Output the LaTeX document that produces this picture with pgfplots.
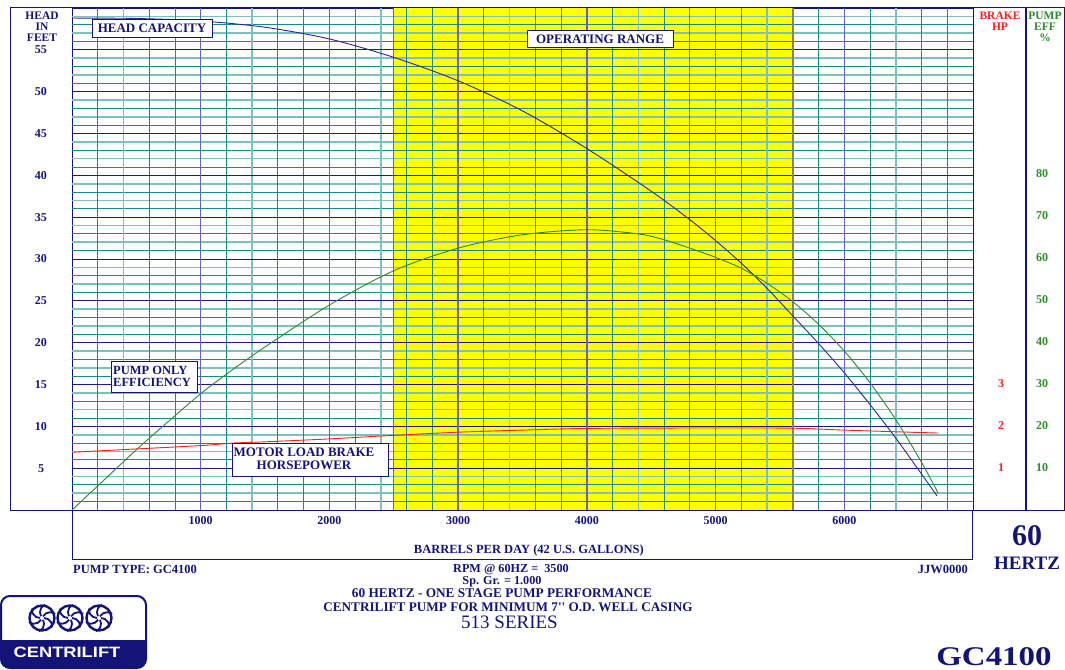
\documentclass[border=0pt]{standalone}
\usepackage{pgfplots}
\pgfplotsset{compat=1.18}
\usepackage{pgfplotstable}
\usepackage{fontspec}
\setmainfont{Liberation Serif}
\newfontfamily\logofont{Liberation Sans}
\definecolor{navy}{RGB}{20,20,120}
\definecolor{gridnavy}{RGB}{25,25,140}
\definecolor{slate}{RGB}{100,100,190}
\definecolor{tealdark}{RGB}{20,140,140}
\definecolor{teallight}{RGB}{125,192,192}
\definecolor{headblue}{RGB}{40,40,150}
\definecolor{effgreen}{RGB}{40,140,40}
\definecolor{hpred}{RGB}{255,30,30}
\definecolor{bandyellow}{RGB}{255,255,0}
\newcommand{\fs}[1]{\fontsize{#1}{#1}\selectfont}

% head capacity (feet) vs barrels per day
\pgfplotstableread{
q h
0 58.8
500 58.75
1000 58.45
1500 57.7
2000 56.3
2500 54.1
3000 51.3
3500 47.7
4000 43.2
4500 38.1
4800 34.7
5000 32.2
5200 29.5
5400 26.5
5600 23.2
5800 19.9
6000 16.4
6200 12.6
6400 8.6
6600 4.3
6720 1.7
}\headdata

% pump efficiency, plotted on the feet scale (percent = 2 x feet)
\pgfplotstableread{
q e
0 0
250 3.6
500 7.2
750 10.6
1000 13.9
1250 16.8
1500 19.5
2000 24.5
2500 28.6
3000 31.3
3500 32.9
4000 33.5
4400 33.0
4600 32.3
4800 31.3
5000 30.2
5200 28.9
5400 27.1
5600 24.9
5800 22.2
6000 19.0
6200 15.2
6400 10.8
6600 5.7
6730 2.0
}\effdata

% motor load brake horsepower, plotted on the feet scale (HP = feet / 5)
\pgfplotstableread{
q b
0 6.9
500 7.3
1000 7.7
1250 8.0
1500 8.15
2000 8.5
2470 8.9
3000 9.3
3500 9.55
4000 9.75
4880 9.8
5580 9.78
6000 9.55
6400 9.35
6730 9.2
}\hpdata

\begin{document}
\begin{tikzpicture}
\useasboundingbox (0pt,0pt) rectangle (1065pt,-669pt);
\begin{axis}[
  at={(72pt,-510pt)}, anchor=south west,
  scale only axis, width=901pt, height=502pt,
  xmin=0, xmax=7000, ymin=0, ymax=60,
  axis line style={draw=navy, line width=1pt},
  xtick={1000,2000,...,6000}, ytick={5,10,...,55},
  major tick length=0pt, minor tick length=0pt,
  tick label style={font=\bfseries\fs{12}, text=navy},
  /pgf/number format/assume math mode=true,
  /pgf/number format/1000 sep={},
  xticklabel style={anchor=center, yshift=-11pt},
  yticklabel style={anchor=center, xshift=-31pt},
  xlabel={BARRELS PER DAY (42 U.S. GALLONS)},
  xlabel style={at={(axis description cs:0.507,0)}, anchor=center, yshift=-40pt, font=\bfseries\fs{12.5}, text=navy},
  clip=false,
]
% operating range band
\fill[bandyellow] (axis cs:2500,0) rectangle (axis cs:5600,60);
% grid
\pgfplotsinvokeforeach{2,4,7,9,12,14,17,19,22,24,27,29,32,34,37,39,42,44,47,49,52,54,57,59}{
  \draw[teallight, line width=1.6pt] (axis cs:0,#1) -- (axis cs:7000,#1);}
\pgfplotsinvokeforeach{1,3,6,8,11,13,16,18,21,23,26,28,31,33,36,38,41,43,46,48,51,53,56,58}{
  \draw[tealdark, line width=0.9pt] (axis cs:0,#1) -- (axis cs:7000,#1);}
\pgfplotsinvokeforeach{400,1400,2400,3400,4400,5400,6400}{
  \draw[teallight, line width=1.6pt] (axis cs:#1,0) -- (axis cs:#1,60);}
\pgfplotsinvokeforeach{200,600,800,1200,1600,1800,2200,2600,2800,3200,3600,3800,4200,4600,4800,5200,5800,6200,6600,6800}{
  \draw[tealdark, line width=0.9pt] (axis cs:#1,0) -- (axis cs:#1,60);}
\pgfplotsinvokeforeach{5,10,...,55}{
  \draw[gridnavy, line width=0.9pt] (axis cs:0,#1) -- (axis cs:7000,#1);}
\pgfplotsinvokeforeach{1000,2000,...,6000}{
  \draw[slate, line width=1.4pt] (axis cs:#1,0) -- (axis cs:#1,60);}
\draw[slate, line width=1.3pt] (axis cs:2500,0) -- (axis cs:2500,60);
\draw[gray, line width=2pt] (axis cs:5600,0) -- (axis cs:5600,60);
% curves
\addplot[headblue, line width=0.9pt, smooth, tension=0.5] table[x=q,y=h] {\headdata};
\addplot[effgreen, line width=0.9pt, smooth, tension=0.5] table[x=q,y=e] {\effdata};
\addplot[hpred, line width=0.9pt, smooth, tension=0.5] table[x=q,y=b] {\hpdata};
\end{axis}

\begin{scope}[x=1pt,y=-1pt]
% frame
\draw[navy, line width=1pt] (10.5,8) -- (1064.5,8) -- (1064.5,510) -- (10.5,510) -- cycle;
\draw[navy, line width=2.2pt] (1026,8) -- (1026,510);
\draw[navy, line width=1pt] (72,510) -- (72,559) -- (972,559) -- (972,510);
% left axis title
\node[font=\bfseries\fs{11.5}, text=navy, align=center, inner sep=0pt] at (42,27) {HEAD\\[-0.5pt]IN\\[-0.5pt]FEET};
% right columns
\node[font=\bfseries\fs{11.5}, text=hpred, align=center, inner sep=0pt] at (1000,21) {BRAKE\\[-0.5pt]HP};
\node[font=\bfseries\fs{11.5}, text=effgreen, align=center, inner sep=0pt] at (1045,27) {PUMP\\[-0.5pt]EFF\\[-0.5pt]\%};
\foreach \v/\yy in {1/468,2/426,3/384}{
  \node[font=\bfseries\fs{12}, text=hpred, inner sep=0pt] at (1001,\yy) {\v};}
\foreach \v/\yy in {10/468,20/426,30/384,40/342,50/300,60/258,70/216,80/174}{
  \node[font=\bfseries\fs{12}, text=effgreen, inner sep=0pt] at (1042,\yy) {\v};}
% annotation boxes
\draw[navy, fill=white, line width=0.8pt] (92,19) rectangle (212,37);
\node[font=\bfseries\fs{13}, text=navy, inner sep=0pt] at (152,28.5) {HEAD CAPACITY};
\draw[navy, fill=white, line width=0.8pt] (527,30) rectangle (673,47);
\node[font=\bfseries\fs{13}, text=navy, inner sep=0pt] at (600,39) {OPERATING RANGE};
\draw[navy, fill=white, line width=0.8pt] (111,361) rectangle (197,392);
\node[font=\bfseries\fs{12.5}, text=navy, align=left, inner sep=0pt, anchor=west] at (113,376.5) {PUMP ONLY\\[-0.5pt]EFFICIENCY};
\draw[navy, fill=white, line width=0.8pt] (232,443) rectangle (388,476);
\node[font=\bfseries\fs{13}, text=navy, align=center, inner sep=0pt] at (304,459) {MOTOR LOAD BRAKE\\[-0.5pt]HORSEPOWER};
% bottom texts
\node[font=\bfseries\fs{12.5}, text=navy, anchor=base west, inner sep=0pt] at (73,573.5) {PUMP TYPE: GC4100};
\node[font=\bfseries\fs{12.5}, text=navy, anchor=base east, inner sep=0pt] at (968,573.5) {JJW0000};
\node[font=\bfseries\fs{12.2}, text=navy, anchor=base, inner sep=0pt] at (511,572.5) {RPM @ 60HZ =\ \ 3500};
\node[font=\bfseries\fs{12.2}, text=navy, anchor=base, inner sep=0pt] at (502,584.5) {Sp. Gr. = 1.000};
\node[font=\bfseries\fs{13.3}, text=navy, anchor=base, inner sep=0pt] at (502,597) {60 HERTZ - ONE STAGE PUMP PERFORMANCE};
\node[font=\bfseries\fs{13.2}, text=navy, anchor=base, inner sep=0pt] at (508,611) {CENTRILIFT PUMP FOR MINIMUM 7\textquotesingle\textquotesingle\ O.D. WELL CASING};
\node[font=\fs{19}, text=navy, anchor=base, inner sep=0pt] at (509.5,628.5) {513 SERIES};
\node[font=\bfseries\fs{30}, text=navy, anchor=base, inner sep=0pt] at (1027,545) {60};
\node[font=\bfseries\fs{19}, text=navy, anchor=base, inner sep=0pt] at (1027,569) {HERTZ};
\node[font=\bfseries\fs{27}, text=navy, anchor=base, inner sep=0pt, xscale=1.22] at (994,665) {GC4100};
% logo
\draw[navy, line width=2pt, rounded corners=9pt] (1,596) rectangle (146,668);
\fill[navy, rounded corners=8pt] (1,640) rectangle (146,668);
\fill[navy] (1,640) rectangle (146,652);
\node[font=\logofont\bfseries\fs{15}, text=white, inner sep=0pt, xscale=1.22] at (67,652.5) {CENTRILIFT};
\foreach \cx in {42,70,99}{
  \draw[navy, line width=2.4pt] (\cx,618) circle (12.5);
  \foreach \a in {0,60,...,300}{
    \draw[navy, line width=1.8pt] (\cx,618) ++(\a:2) arc[start angle=\a-90, delta angle=100, radius=8];
  }
}
\end{scope}
\end{tikzpicture}
\end{document}
